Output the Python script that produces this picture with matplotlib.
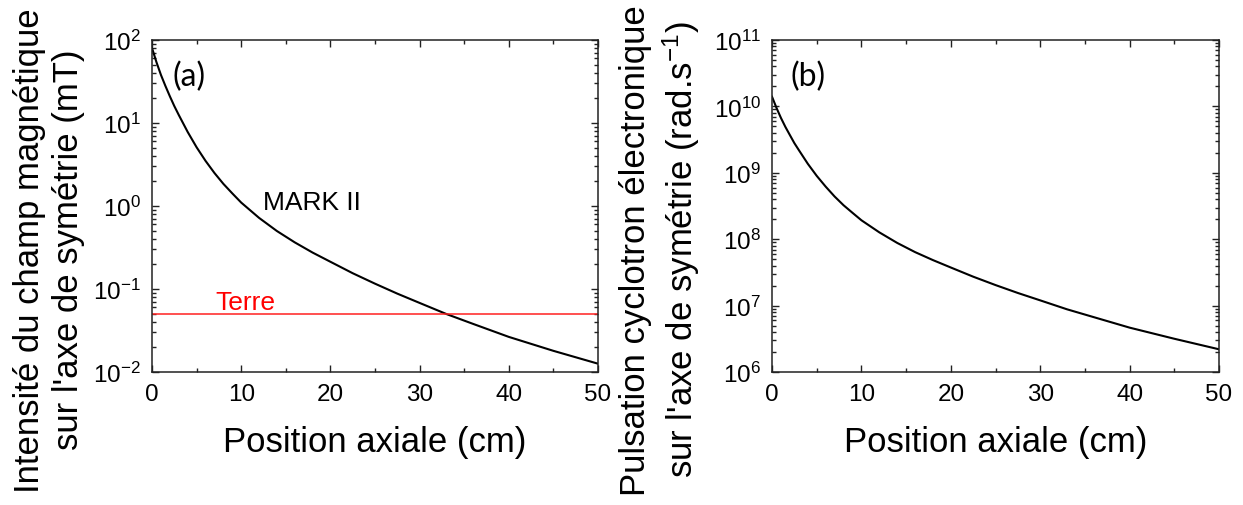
"""Champ magnetique et pulsation cyclotron le long de l'axe (MARK II)."""

import matplotlib
matplotlib.use("Agg")
import matplotlib.pyplot as plt
from matplotlib.ticker import LogLocator, MultipleLocator, FuncFormatter
import numpy as np

position_cm = [0, 0.5, 1, 1.5, 2, 2.5, 3, 4, 5, 6, 7, 8, 9, 10, 12, 14, 16, 18,
               20, 22.5, 25, 27.5, 30, 33, 36, 40, 45, 50]

# (a) champ magnetique sur l'axe (mT)
champ_mT = [80, 54, 38, 28, 21, 16, 12.5, 7.8, 5.1, 3.5, 2.5, 1.85, 1.42, 1.1,
            0.72, 0.5, 0.365, 0.275, 0.213, 0.155, 0.116, 0.088, 0.068, 0.05,
            0.038, 0.0265, 0.018, 0.0126]

# (b) pulsation cyclotron electronique (rad/s)
pulsation = [1.4e10, 9.5e9, 6.7e9, 4.9e9, 3.7e9, 2.8e9, 2.2e9, 1.37e9, 9.0e8,
             6.2e8, 4.4e8, 3.25e8, 2.5e8, 1.93e8, 1.27e8, 8.8e7, 6.4e7, 4.85e7,
             3.75e7, 2.73e7, 2.04e7, 1.55e7, 1.2e7, 8.8e6, 6.7e6, 4.66e6,
             3.17e6, 2.2e6]

champ_terre_mT = 0.05

plt.rcParams["font.family"] = ["Liberation Sans", "DejaVu Sans"]
plt.rcParams["mathtext.fontset"] = "custom"
plt.rcParams["mathtext.rm"] = "Liberation Sans"
plt.rcParams["mathtext.it"] = "Liberation Sans:italic"
plt.rcParams["mathtext.bf"] = "Liberation Sans:bold"


def log_label(v, pos):
    return r"$10^{%d}$" % int(round(np.log10(v)))


def style_axis(ax, ylim):
    ax.set_xlim(0, 50)
    ax.set_yscale("log")
    ax.set_ylim(*ylim)
    ax.xaxis.set_major_locator(MultipleLocator(10))
    ax.xaxis.set_minor_locator(MultipleLocator(5))
    ax.yaxis.set_major_locator(LogLocator(base=10, numticks=20))
    ax.yaxis.set_minor_locator(LogLocator(base=10, subs=np.arange(2, 10), numticks=20))
    ax.yaxis.set_major_formatter(FuncFormatter(log_label))
    ax.tick_params(which="both", direction="in", top=True, right=True,
                   color="#222222", labelcolor="black", width=1.0)
    ax.tick_params(which="major", length=5, labelsize=17.5, pad=8)
    ax.tick_params(which="minor", length=3)
    for side in ax.spines.values():
        side.set_linewidth(1.1)
        side.set_color("#222222")
    ax.set_xlabel("Position axiale (cm)", fontsize=25, labelpad=14)


fig = plt.figure(figsize=(12.43, 5.06), dpi=100)
ax_a = fig.add_axes([0.1223, 0.2628, 0.3588, 0.6561])
ax_b = fig.add_axes([0.6211, 0.2628, 0.3596, 0.6561])

# Panneau (a)
ax_a.plot(position_cm, champ_mT, color="black", linewidth=1.5)
ax_a.axhline(champ_terre_mT, color="#ff2020", linewidth=1.1)
style_axis(ax_a, (1e-2, 1e2))
ax_a.set_ylabel("Intensité du champ magnétique\nsur l'axe de symétrie (mT)",
                fontsize=25, linespacing=1.25)
ax_a.yaxis.set_label_coords(-0.150, 0.37)
ax_a.text(0.045, 0.893, "(a)", transform=ax_a.transAxes, fontsize=23,
          family=["Lato", "DejaVu Sans"], va="center")
ax_a.text(0.249, 0.513, "MARK II", transform=ax_a.transAxes, fontsize=19,
          va="center")
ax_a.text(7.1, 0.0575, "Terre", color="#ff0000", fontsize=19, va="baseline")

# Panneau (b)
ax_b.plot(position_cm, pulsation, color="black", linewidth=1.5)
style_axis(ax_b, (1e6, 1e11))
ax_b.set_ylabel("Pulsation cyclotron électronique\n"
                "sur l'axe de symétrie (rad.s$^{-1}$)",
                fontsize=25, linespacing=1.25)
ax_b.yaxis.set_label_coords(-0.157, 0.37)
ax_b.text(0.041, 0.893, "(b)", transform=ax_b.transAxes, fontsize=23,
          family=["Lato", "DejaVu Sans"], va="center")

fig.savefig("out.png", dpi=100)
plt.close(fig)
